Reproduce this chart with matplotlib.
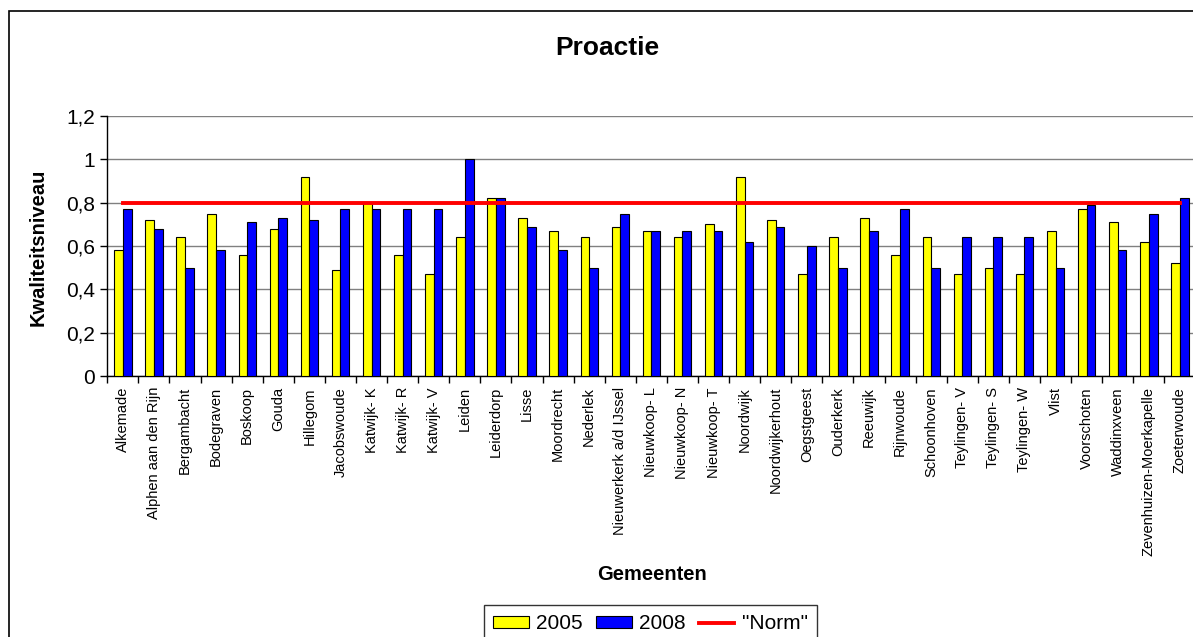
import numpy as np
import matplotlib
matplotlib.use("Agg")
import matplotlib.pyplot as plt
from matplotlib.patches import Rectangle, Patch
from matplotlib.lines import Line2D
from matplotlib.ticker import FuncFormatter, FixedLocator

plt.rcParams['font.family'] = ['Liberation Sans', 'DejaVu Sans']

gemeenten = [
    "Alkemade", "Alphen aan den Rijn", "Bergambacht", "Bodegraven", "Boskoop",
    "Gouda", "Hillegom", "Jacobswoude", "Katwijk- K", "Katwijk- R", "Katwijk- V",
    "Leiden", "Leiderdorp", "Lisse", "Moordrecht", "Nederlek",
    "Nieuwerkerk a/d IJssel", "Nieuwkoop- L", "Nieuwkoop- N", "Nieuwkoop- T",
    "Noordwijk", "Noordwijkerhout", "Oegstgeest", "Ouderkerk", "Reeuwijk",
    "Rijnwoude", "Schoonhoven", "Teylingen- V", "Teylingen- S", "Teylingen- W",
    "Vlist", "Voorschoten", "Waddinxveen", "Zevenhuizen-Moerkapelle", "Zoeterwoude",
]
score_2005 = [
    0.58, 0.72, 0.64, 0.75, 0.56, 0.68, 0.92, 0.49, 0.80, 0.56, 0.47,
    0.64, 0.82, 0.73, 0.67, 0.64, 0.69, 0.67, 0.64, 0.70,
    0.92, 0.72, 0.47, 0.64, 0.73, 0.56, 0.64, 0.47, 0.50, 0.47,
    0.67, 0.77, 0.71, 0.62, 0.52,
]
score_2008 = [
    0.77, 0.68, 0.50, 0.58, 0.71, 0.73, 0.72, 0.77, 0.77, 0.77, 0.77,
    1.00, 0.82, 0.69, 0.58, 0.50, 0.75, 0.67, 0.67, 0.67,
    0.62, 0.69, 0.60, 0.50, 0.67, 0.77, 0.50, 0.64, 0.64, 0.64,
    0.50, 0.79, 0.58, 0.75, 0.82,
]
norm = 0.8
yticks = [0, 0.2, 0.4, 0.6, 0.8, 1.0, 1.2]

W, H = 1193, 637
fig = plt.figure(figsize=(W / 100, H / 100), dpi=100)

# chart area border
fig.patches.append(Rectangle((8.5 / W, -0.2), 1.2, 1.2 - 11 / H,
                             transform=fig.transFigure, fill=False,
                             edgecolor='black', linewidth=1.2))

ax = fig.add_axes([107.3 / W, (H - 376) / H, (1195.5 - 107.3) / W, (376 - 116) / H])

x = np.arange(len(gemeenten))
bw = 0.28
ax.bar(x - bw / 2, score_2005, bw, color='#FFFF00', edgecolor='black', linewidth=0.8, zorder=3)
ax.bar(x + bw / 2, score_2008, bw, color='#0000FF', edgecolor='black', linewidth=0.8, zorder=3)
ax.plot([x[0], x[-1]], [norm, norm], color='#FF0000', linewidth=2.8, zorder=4)

ax.set_xlim(-0.5, len(gemeenten) - 0.5)
ax.set_ylim(0, 1.2)
ax.set_yticks(yticks)
ax.yaxis.set_major_formatter(FuncFormatter(lambda v, p: f"{v:g}".replace('.', ',')))
ax.yaxis.grid(True, color='#808080', linewidth=1.0, zorder=0)
ax.set_axisbelow(True)

ax.set_xticks(x)
ax.set_xticklabels(gemeenten, rotation=90, fontsize=10.5, va='top', ha='center')
ax.xaxis.set_minor_locator(FixedLocator(np.arange(-0.5, len(gemeenten), 1.0)))
ax.tick_params(axis='x', which='major', length=0, pad=8)
ax.tick_params(axis='x', which='minor', length=5, width=1, direction='out')
ax.tick_params(axis='y', length=5, width=1, labelsize=15, pad=4)

for s in ['top', 'right']:
    ax.spines[s].set_visible(False)
ax.spines['left'].set_linewidth(1)
ax.spines['bottom'].set_linewidth(1)

fig.text(607 / W, 1 - 48 / H, "Proactie", fontsize=19, fontweight='bold', ha='center', va='center')
fig.text(38 / W, 1 - 247 / H, "Kwaliteitsniveau", fontsize=14.5, fontweight='bold',
         rotation=90, ha='center', va='center')
fig.text(652 / W, 1 - 575 / H, "Gemeenten", fontsize=14.5, fontweight='bold', ha='center', va='center')

handles = [
    Patch(facecolor='#FFFF00', edgecolor='black', linewidth=0.8),
    Patch(facecolor='#0000FF', edgecolor='black', linewidth=0.8),
    Line2D([0], [0], color='#FF0000', linewidth=2.8),
]
leg = fig.legend(handles, ['2005', '2008', '"Norm"'], loc='upper center', ncol=3,
                 bbox_to_anchor=(650.5 / W, 1 - 605 / H), borderaxespad=0, fontsize=15,
                 frameon=True, fancybox=False, edgecolor='black', handlelength=1.7,
                 handleheight=0.5, handletextpad=0.35, columnspacing=0.65, borderpad=0.45)
leg.get_frame().set_linewidth(1)

fig.savefig("out.png", dpi=100)
